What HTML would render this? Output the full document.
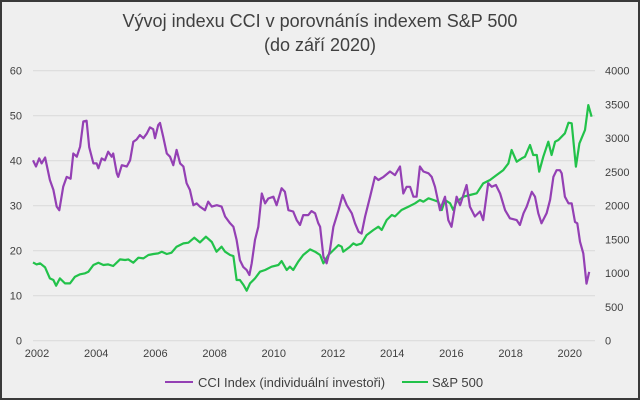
<!DOCTYPE html>
<html><head><meta charset="utf-8"><style>
html,body{margin:0;padding:0;background:#fff;}
#wrap{position:relative;width:640px;height:401px;overflow:hidden;}
svg text{font-family:"Liberation Sans",sans-serif;}
</style></head><body>
<div id="wrap">
<svg id="chart" width="640" height="401" viewBox="0 0 640 401">
<rect x="1" y="1" width="638" height="398" fill="#efefef" stroke="#3a3a3a" stroke-width="2"/>
<text x="320" y="27" text-anchor="middle" font-size="18" fill="#404040">Vývoj indexu CCI v porovnánís indexem S&amp;P 500</text>
<text x="320" y="51" text-anchor="middle" font-size="18" fill="#404040">(do září 2020)</text>
<g id="grid"></g><g id="axes"></g><g id="series"></g>
<g>
<line x1="165" y1="382" x2="193" y2="382" stroke="#9440b4" stroke-width="2"/>
<text x="198" y="387" font-size="13" fill="#404040">CCI Index (individuální investoři)</text>
<line x1="402" y1="382" x2="428" y2="382" stroke="#22c24a" stroke-width="2"/>
<text x="432" y="387" font-size="13" fill="#404040">S&amp;P 500</text>
</g>
</svg></div>
<script>
const leftTicks=[0,10,20,30,40,50,60];
const rightTicks=[0,500,1000,1500,2000,2500,3000,3500,4000];
const xTicks=[2002,2004,2006,2008,2010,2012,2014,2016,2018,2020];
const cciYears=[2002.00,2002.10,2002.21,2002.29,2002.41,2002.57,2002.69,2002.80,2002.89,2003.02,2003.14,2003.27,2003.36,2003.48,2003.59,2003.70,2003.81,2003.90,2004.04,2004.15,2004.21,2004.32,2004.43,2004.54,2004.66,2004.71,2004.83,2004.88,2005.00,2005.17,2005.28,2005.39,2005.50,2005.61,2005.73,2005.84,2005.95,2006.06,2006.12,2006.23,2006.29,2006.40,2006.52,2006.63,2006.74,2006.85,2006.97,2007.08,2007.19,2007.30,2007.42,2007.53,2007.64,2007.81,2007.92,2008.04,2008.21,2008.37,2008.49,2008.66,2008.77,2008.88,2008.99,2009.10,2009.22,2009.31,2009.39,2009.50,2009.61,2009.73,2009.84,2009.95,2010.12,2010.23,2010.40,2010.51,2010.63,2010.79,2010.91,2011.02,2011.13,2011.30,2011.41,2011.53,2011.64,2011.70,2011.81,2011.92,2012.03,2012.15,2012.32,2012.46,2012.60,2012.77,2012.88,2013.00,2013.10,2013.22,2013.39,2013.55,2013.67,2013.84,2014.06,2014.23,2014.40,2014.51,2014.62,2014.74,2014.85,2014.96,2015.07,2015.19,2015.36,2015.47,2015.58,2015.75,2015.92,2016.03,2016.14,2016.31,2016.43,2016.65,2016.76,2016.93,2017.10,2017.21,2017.38,2017.50,2017.64,2017.78,2017.95,2018.11,2018.34,2018.45,2018.57,2018.68,2018.85,2018.96,2019.07,2019.18,2019.35,2019.47,2019.58,2019.69,2019.80,2019.86,2019.97,2020.09,2020.20,2020.31,2020.39,2020.48,2020.59,2020.70,2020.79];
const cciValues=[40.1,38.7,40.5,39.4,40.7,35.7,33.5,29.8,29.0,34.2,36.4,36.0,41.6,40.9,43.1,48.7,48.9,43.0,39.4,39.4,38.3,40.5,40.1,42.0,40.9,41.6,37.2,36.4,39.0,38.7,40.1,44.2,44.7,45.7,45.0,46.0,47.4,47.0,45.0,47.9,48.4,45.3,41.6,40.9,39.0,42.4,39.4,38.7,35.0,33.5,30.1,30.5,29.8,29.0,30.9,29.8,30.1,29.8,27.6,26.1,25.3,22.4,17.9,16.4,15.7,14.6,17.2,22.4,25.3,32.7,30.5,31.6,32.0,30.1,33.9,33.1,29.0,28.7,26.8,25.7,27.9,27.9,28.8,28.3,26.1,25.3,18.7,17.2,20.1,25.3,29.0,32.4,30.1,28.3,26.1,24.2,23.8,27.6,32.0,36.4,35.7,36.4,37.6,36.8,38.7,32.7,34.2,34.2,32.0,32.0,38.7,37.6,37.2,36.4,34.2,29.0,32.0,26.8,25.3,32.0,30.1,34.6,29.8,27.6,28.7,26.8,35.0,34.2,34.6,32.7,29.0,27.2,26.8,25.7,28.3,29.8,33.1,32.0,28.3,26.1,28.3,31.3,36.4,37.9,37.9,37.2,32.0,30.5,30.5,26.4,26.1,22.0,19.4,12.7,15.3];
const spYears=[2002.00,2002.12,2002.24,2002.41,2002.57,2002.69,2002.78,2002.91,2003.08,2003.25,2003.42,2003.59,2003.76,2003.87,2004.04,2004.21,2004.38,2004.54,2004.71,2004.94,2005.11,2005.22,2005.39,2005.56,2005.73,2005.90,2006.07,2006.23,2006.35,2006.52,2006.68,2006.85,2007.08,2007.25,2007.45,2007.64,2007.84,2008.04,2008.20,2008.37,2008.49,2008.66,2008.77,2008.88,2008.99,2009.11,2009.22,2009.33,2009.50,2009.67,2009.84,2010.06,2010.29,2010.40,2010.57,2010.68,2010.79,2010.96,2011.13,2011.36,2011.53,2011.70,2011.81,2011.98,2012.32,2012.43,2012.48,2012.71,2012.82,2012.93,2013.10,2013.27,2013.50,2013.67,2013.78,2013.95,2014.12,2014.23,2014.45,2014.68,2014.91,2015.07,2015.19,2015.36,2015.53,2015.69,2015.81,2015.92,2016.09,2016.20,2016.31,2016.54,2016.76,2016.99,2017.21,2017.44,2017.66,2017.89,2018.06,2018.17,2018.34,2018.51,2018.62,2018.79,2018.90,2019.02,2019.10,2019.24,2019.41,2019.52,2019.64,2019.75,2019.97,2020.09,2020.20,2020.34,2020.46,2020.65,2020.76,2020.87];
const spValues=[1160,1131,1146,1086,923,899,815,923,849,849,948,983,998,1022,1121,1156,1121,1131,1106,1205,1195,1205,1156,1230,1220,1269,1284,1294,1319,1284,1304,1393,1442,1452,1526,1457,1541,1462,1319,1393,1319,1269,1254,899,899,825,741,849,923,1022,1047,1096,1121,1180,1047,1096,1047,1170,1269,1353,1319,1269,1146,1269,1417,1393,1319,1393,1442,1417,1442,1565,1640,1689,1640,1788,1862,1842,1936,1985,2035,2084,2059,2109,2084,2059,1936,2084,2035,1936,2059,2133,2158,2183,2331,2380,2454,2528,2627,2825,2652,2701,2726,2899,2751,2751,2504,2726,2948,2751,2948,2973,3072,3230,3220,2578,2923,3121,3491,3319];

const NS='http://www.w3.org/2000/svg';
const X0=33,X1=595,YT=70.7,YB=340.7;
function xScale(t){return X0+29.6*(t-2002);}
function yLeft(v){return YB-(v/60)*(YB-YT);}
function yRight(v){return YB-(v/4000)*(YB-YT);}
function mk(tag,attrs,parent){const e=document.createElementNS(NS,tag);for(const k in attrs)e.setAttribute(k,attrs[k]);parent.appendChild(e);return e;}
const grid=document.getElementById('grid'),axes=document.getElementById('axes'),series=document.getElementById('series');
leftTicks.forEach(v=>{
  const y=yLeft(v);
  const l=mk('line',{x1:X0,x2:X1,y1:y,y2:y,stroke:'#d9d9d9','stroke-width':1},grid);
  
  
  const t=mk('text',{x:22,y:y+4,'text-anchor':'end','font-size':11,fill:'#404040'},axes);
  t.textContent=v;
  
  
});
rightTicks.forEach(v=>{
  const t=mk('text',{x:605,y:yRight(v)+4,'font-size':11,fill:'#404040'},axes);
  t.textContent=v;
  
  
});
xTicks.forEach(v=>{
  const t=mk('text',{x:xScale(v)+4,y:357,'text-anchor':'middle','font-size':11,fill:'#404040'},axes);
  t.textContent=v;
  
  
});
function path(xs,ys,fy){return xs.map((t,i)=>(i?'L':'M')+xScale(t).toFixed(1)+','+fy(ys[i]).toFixed(1)).join('');}
const sp=mk('path',{d:path(spYears,spValues,yRight),fill:'none',stroke:'#22c24a','stroke-width':2.2,'stroke-linejoin':'round'},series);


const cci=mk('path',{d:path(cciYears,cciValues,yLeft),fill:'none',stroke:'#9440b4','stroke-width':2.2,'stroke-linejoin':'round'},series);


</script>
</body></html>
